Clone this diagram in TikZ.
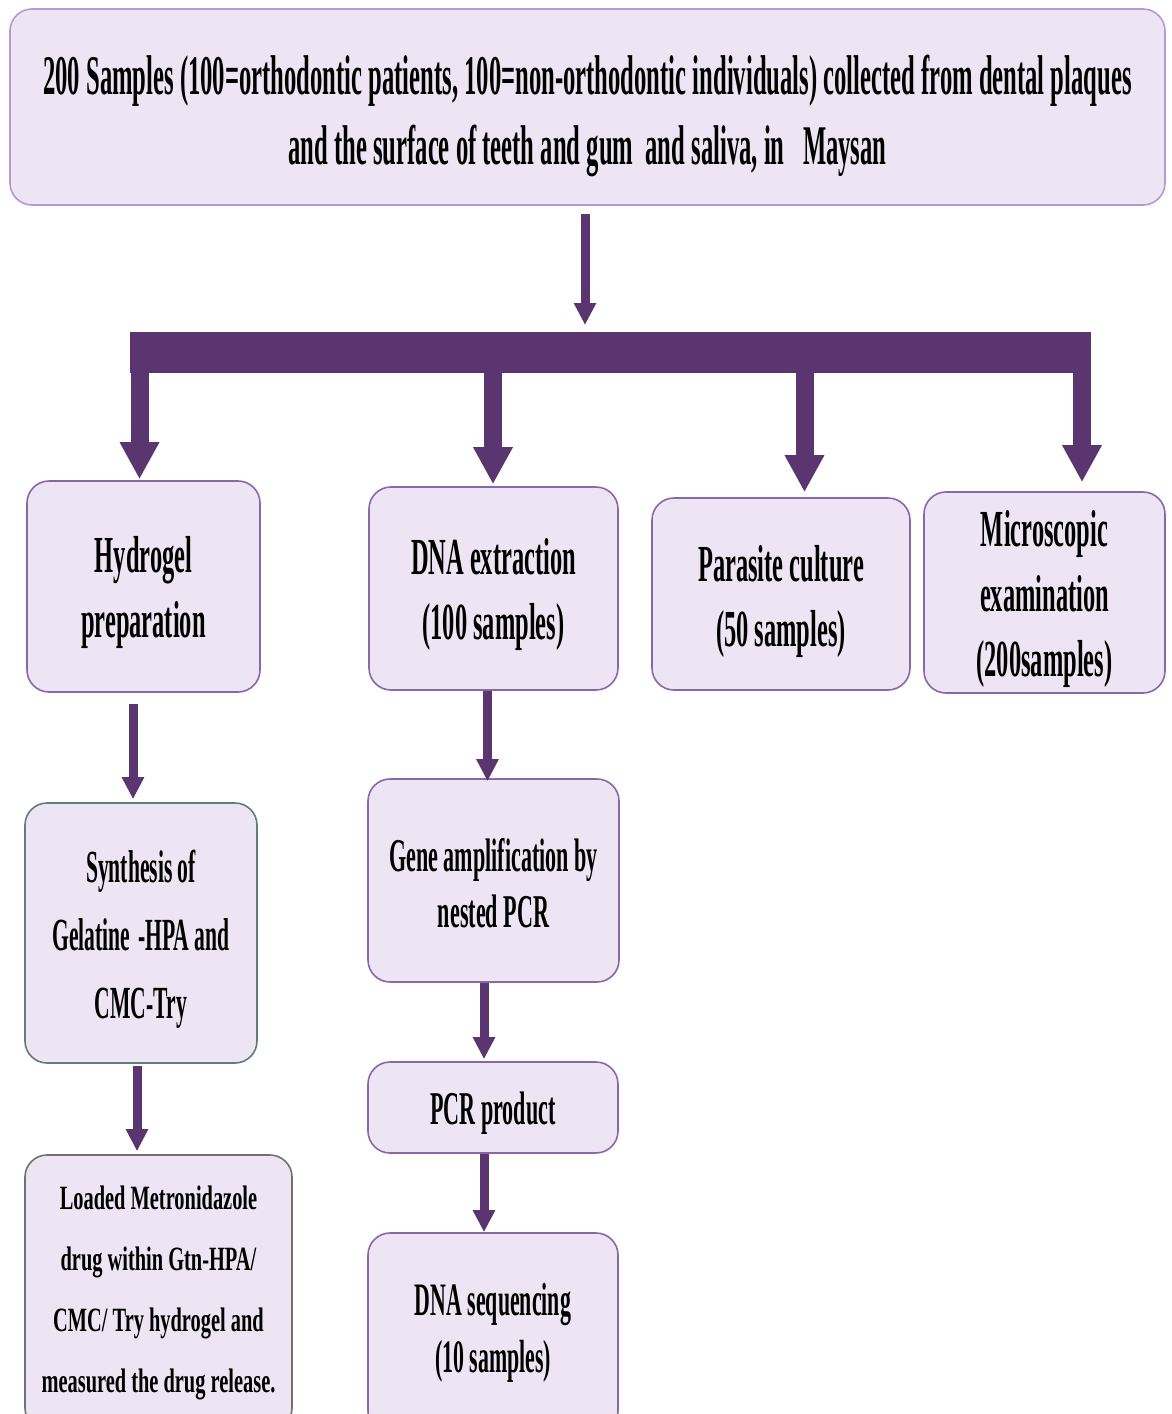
\documentclass[tikz,border=0pt]{standalone}
\usepackage{fontspec}
\newfontfamily\condfont{Liberation Serif}[FakeStretch=0.47]
\newfontfamily\topfont{Liberation Serif}[FakeStretch=0.44]
\newfontfamily\semicondfont{Liberation Serif}[FakeStretch=0.6]
\usetikzlibrary{arrows.meta,calc}

\definecolor{boxfill}{HTML}{EDE5F3}
\definecolor{boxline}{HTML}{8C67A8}
\definecolor{topline}{HTML}{B996D6}
\definecolor{tealline}{HTML}{5E7E7A}
\definecolor{grayline}{HTML}{707070}
\definecolor{arrowpurple}{HTML}{5B3570}

\newcommand\fs[2]{\fontsize{#1}{#2}\selectfont}
% strut on the first line pushes the text down a little
\newcommand\lift[1]{\rule{0pt}{#1}}

\tikzset{
  stepbox/.style={draw=boxline, fill=boxfill, line width=1.6pt,
    rounded corners=22pt, align=center, inner sep=0pt,
    font=\condfont\bfseries\fs{52}{65}},
  thinarrow/.style={draw=arrowpurple, line width=9pt,
    -{Triangle[width=21pt,length=22pt]}},
  thickarrow/.style={draw=arrowpurple, line width=18pt,
    -{Triangle[width=37pt,length=37pt]}},
}

\begin{document}
\begin{tikzpicture}[x=1pt,y=-1pt]

  % page
  \useasboundingbox (0,0) rectangle (1172,1414);

  % top box
  \node[stepbox, draw=topline, minimum width=1155pt, minimum height=196pt,
        font=\topfont\bfseries\fs{56}{70}] (top) at (587.5,107)
    {\lift{57pt}200 Samples (100=orthodontic patients, 100=non-orthodontic individuals) collected from dental plaques\\
     and the surface of teeth and gum\ \ and saliva, in\ \ \ Maysan};

  % first row
  \node[stepbox, minimum width=233pt, minimum height=211pt] (hyd) at (143.5,586.5)
    {\lift{49pt}Hydrogel\\preparation};
  \node[stepbox, minimum width=249pt, minimum height=203pt] (dna) at (493.5,588.5)
    {\lift{49pt}DNA extraction\\(100 samples)};
  \node[stepbox, minimum width=258pt, minimum height=192pt] (par) at (781,594)
    {\lift{52pt}Parasite culture\\(50 samples)};
  \node[stepbox, minimum width=241pt, minimum height=201pt] (mic) at (1044.5,592.5)
    {\lift{49pt}Microscopic\\examination\\(200samples)};

  % hydrogel branch
  \node[stepbox, draw=tealline, minimum width=232pt, minimum height=260pt,
        font=\condfont\bfseries\fs{46}{68}] (syn) at (141,933)
    {\lift{45pt}Synthesis of\\Gelatine\,-HPA and\\CMC-Try};
  \node[stepbox, draw=grayline, minimum width=267pt, minimum height=275pt,
        font=\semicondfont\bfseries\fs{34}{61}] (load) at (158.5,1292.5)
    {Loaded Metronidazole\\drug within Gtn-HPA/\\CMC/ Try hydrogel and\\measured the drug release.};

  % DNA branch
  \node[stepbox, minimum width=251pt, minimum height=203pt,
        font=\condfont\bfseries\fs{47}{56}] (gene) at (493.5,880.5)
    {\lift{38pt}Gene amplification by\\nested PCR};
  \node[stepbox, minimum width=250pt, minimum height=91pt,
        font=\condfont\bfseries\fs{47}{56}] (pcr) at (493,1107.5)
    {\lift{44pt}PCR product};
  \node[stepbox, minimum width=250pt, minimum height=200pt,
        font=\condfont\bfseries\fs{46.5}{57}] (seq) at (493,1333)
    {DNA sequencing\\(10 samples)};

  % split bar
  \coordinate (hub) at (585,332);
  \coordinate (legH) at (139.5,352);
  \coordinate (legD) at (493,352);
  \coordinate (legP) at (804.5,352);
  \coordinate (legM) at (1082,352);
  \fill[arrowpurple] (130,332) rectangle (1091,373);
  \draw[thinarrow, shorten <=8pt, shorten >=7pt] (top.south -| hub) -- (hub);
  \draw[thickarrow, shorten >=1pt] (legH) -- (legH |- hyd.north);
  \draw[thickarrow, shorten >=2pt] (legD) -- (legD |- dna.north);
  \draw[thickarrow, shorten >=5pt] (legP) -- (legP |- par.north);
  \draw[thickarrow, shorten >=9pt] (legM) -- (legM |- mic.north);

  % down the columns
  \draw[thinarrow, shorten <=11pt, shorten >=3pt] ([xshift=-10.5pt]hyd.south) -- ([xshift=-8pt]syn.north);
  \draw[thinarrow, shorten <=2pt, shorten >=3pt] ([xshift=-4pt]syn.south) -- ([xshift=-21.5pt]load.north);
  \draw[thinarrow, shorten >=-3pt] ([xshift=-6pt]dna.south) -- ([xshift=-6pt]gene.north);
  \draw[thinarrow, shorten >=2pt] ([xshift=-9.5pt]gene.south) -- ([xshift=-9pt]pcr.north);
  \draw[thinarrow] ([xshift=-9pt]pcr.south) -- ([xshift=-9pt]seq.north);

\end{tikzpicture}
\end{document}
